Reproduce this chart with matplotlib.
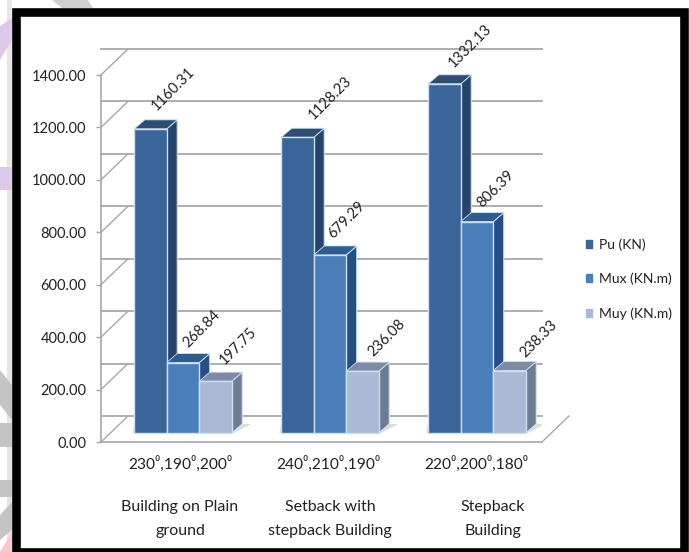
import matplotlib
matplotlib.use("Agg")
import matplotlib.pyplot as plt
from matplotlib.patches import Patch, Polygon, Rectangle

plt.rcParams['font.family'] = ['Lato', 'DejaVu Sans']

# data
angle_labels = ["230⁰,190⁰,200⁰", "240⁰,210⁰,190⁰", "220⁰,200⁰,180⁰"]
building_labels = ["Building on Plain\nground", "Setback with\nstepback Building", "Stepback\nBuilding"]
series_names = ["Pu (KN)", "Mux (KN.m)", "Muy (KN.m)"]
pu = [1160.31, 1128.23, 1332.13]
mux = [268.84, 679.29, 806.39]
muy = [197.75, 236.08, 238.33]
y_ticks = [0, 200, 400, 600, 800, 1000, 1200, 1400]

# front, top, side
colors = [("#3a6598", "#2d4d75", "#26436a"),
          ("#4a7ebb", "#2f5b8e", "#254f80"),
          ("#a9b9d6", "#7f8aa8", "#6d7c93")]
edge_col = "#cfe0f2"
grid_col = "#a8a8a8"
text_col = "#222222"

W, H = 689, 552
fig = plt.figure(figsize=(W / 100, H / 100), dpi=100)

# page behind the framed picture, in pixels
bg = fig.add_axes([0, 0, 1, 1])
bg.set_xlim(0, W)
bg.set_ylim(H, 0)
bg.axis("off")
bg.add_patch(Rectangle((7, 0), 5, H, color="#e6e6e6", lw=0))
bg.add_patch(Polygon([(0, 26), (12, 18), (12, 40), (0, 60)], color="#dcc9ea", lw=0))
bg.add_patch(Rectangle((0, 167), 12, 23, color="#dcc9ea", lw=0))
bg.add_patch(Polygon([(52, 0), (88, 0), (93, 8), (62, 8)], color="#cfcfcf", lw=0))
bg.add_patch(Polygon([(0, 370), (12, 385), (12, 420), (0, 405)], color="#c4c4c4", lw=0))
bg.add_patch(Rectangle((0, 423), 12, 24, color="#c4c4c4", lw=0))
bg.add_patch(Rectangle((0, 480), 12, 17, color="#c4c4c4", lw=0))
bg.add_patch(Polygon([(0, 515), (12, 502), (12, 530), (0, 540)], color="#c4c4c4", lw=0))
bg.add_patch(Polygon([(12, 532), (12, 552), (0, 552)], color="#f6c9cf", lw=0))
# black frame
bg.add_patch(Rectangle((16, 12), 668, 540, fill=False, ec="black", lw=6.2))

left, right, bottom, top = 101, 542, 442, 75
ax = fig.add_axes([left / W, 1 - bottom / H, (right - left) / W, (bottom - top) / H])
ax.patch.set_alpha(0)
ax.set_xlim(0, 3)
ax.set_ylim(0, 1400)
PX_X = 3 / (right - left)
PX_Y = 1400 / (bottom - top)

for s in ["top", "right"]:
    ax.spines[s].set_visible(False)
for s in ["left", "bottom"]:
    ax.spines[s].set_color(grid_col)
    ax.spines[s].set_linewidth(1.2)
ax.set_xticks([])
ax.set_yticks(y_ticks)
ax.set_yticklabels([f"{v:.2f}" for v in y_ticks], fontsize=10.5, color=text_col)
ax.tick_params(axis="y", length=3.5, width=1, color=grid_col, pad=7)

# back wall and floor
wall_dx, wall_dy = 27 * PX_X, 26 * PX_Y
for v in y_ticks:
    ax.plot([0, 3], [v + wall_dy] * 2, color=grid_col, lw=1.3, clip_on=False, zorder=1)
    ax.plot([0, wall_dx], [v, v + wall_dy], color=grid_col, lw=1, clip_on=False, zorder=1)
ax.plot([3, 3 + wall_dx], [0, wall_dy], color=grid_col, lw=1, clip_on=False, zorder=1)

bar_w = 32.5 * PX_X
dep_x, dep_y = 10.5 * PX_X, 9 * PX_Y
base_x, base_y = 8.5 * PX_X, 9 * PX_Y

all_series = [pu, mux, muy]
# hand placed label offsets from the bar top centre, pixels
label_off = [[(23, 40), (33, 39), (26, 38)],
             [(19, 34), (17, 35), (19, 33)],
             [(23, 35), (24, 33), (29, 32)]]

for g in range(3):
    gx = g + 0.5 + base_x
    ax.add_patch(Polygon([(gx - 1.5 * bar_w - 2 * PX_X, base_y),
                          (gx + 1.5 * bar_w + 2 * PX_X, base_y),
                          (gx + 1.5 * bar_w + dep_x + 9 * PX_X, base_y + dep_y),
                          (gx - 1.5 * bar_w, base_y + dep_y)],
                         color="#dcdcdc", lw=0, zorder=2))
    for i, vals in enumerate(all_series):
        x0 = gx + (i - 1.5) * bar_w
        v = vals[g]
        front, top_c, side = colors[i]
        ax.add_patch(Polygon([(x0 + bar_w, base_y), (x0 + bar_w + dep_x, base_y + dep_y),
                              (x0 + bar_w + dep_x, base_y + v + dep_y), (x0 + bar_w, base_y + v)],
                             fc=side, ec=edge_col, lw=0.8, zorder=3 + i, clip_on=False))
        ax.add_patch(Polygon([(x0, base_y + v), (x0 + bar_w, base_y + v),
                              (x0 + bar_w + dep_x, base_y + v + dep_y), (x0 + dep_x, base_y + v + dep_y)],
                             fc=top_c, ec=edge_col, lw=0.6, zorder=3 + i, clip_on=False))
        ax.bar(x0, v, bar_w, bottom=base_y, align="edge", color=front, ec=edge_col, lw=1,
               zorder=3 + i, clip_on=False)
        ox, oy = label_off[i][g]
        ax.annotate(f"{v:.2f}", (x0 + bar_w / 2, base_y + v), xytext=(ox * 0.72, oy * 0.72),
                    textcoords="offset points", rotation=45, ha="center", va="center",
                    rotation_mode="anchor", fontsize=10.5, color=text_col, zorder=10,
                    annotation_clip=False)

# category text under the floor
angle_x = [180, 328, 476]
build_x = [180, 330, 493]
for g in range(3):
    ax.annotate(angle_labels[g], (g + 0.5, 0), xytext=((angle_x[g] - (left + 73.5 + 147 * g)) * 0.72, -22 * 0.72),
                textcoords="offset points", ha="center", va="center", fontsize=11.2,
                color=text_col, annotation_clip=False)
    ax.annotate(building_labels[g], (g + 0.5, 0), xytext=((build_x[g] - (left + 73.5 + 147 * g)) * 0.72, -77 * 0.72),
                textcoords="offset points", ha="center", va="center", fontsize=11.5,
                color=text_col, linespacing=1.9, annotation_clip=False)

handles = [Patch(color=colors[i][0], label=series_names[i]) for i in range(3)]
fig.legend(handles=handles, loc="center left", bbox_to_anchor=(573 / W, 1 - 279 / H), frameon=False,
           fontsize=10, labelcolor=text_col, handlelength=0.5, handleheight=0.5,
           handletextpad=0.45, labelspacing=1.6)

fig.savefig("out.png", dpi=100)
